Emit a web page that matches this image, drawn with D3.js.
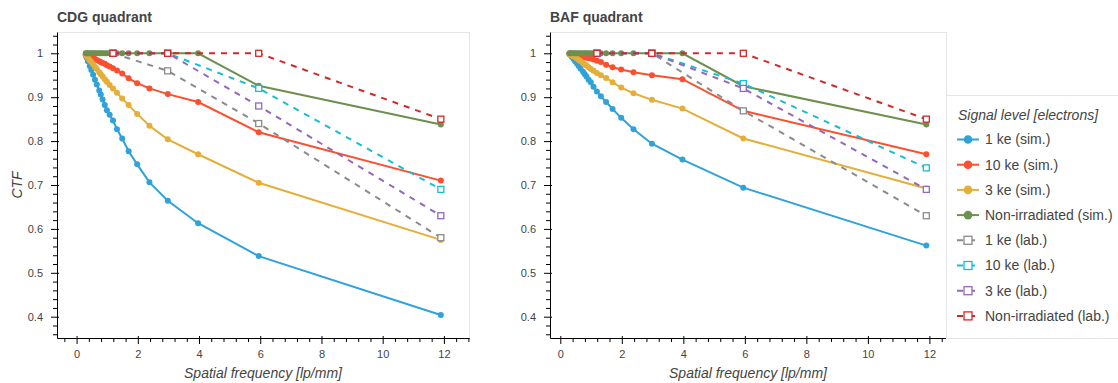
<!DOCTYPE html>
<html>
<head>
<meta charset="utf-8">
<script src="https://cdn.jsdelivr.net/npm/d3@7"></script>
<style>
body { margin: 0; background: #fff; }
text { font-family: "Liberation Sans", Arial, Helvetica, sans-serif; }
</style>
</head>
<body>
<svg id="place" width="1118" height="383"></svg>
<script>
// spatial frequencies of the simulated points [lp/mm]
var freq = [0.30, 0.33, 0.37, 0.43, 0.48, 0.54, 0.60, 0.66, 0.74, 0.79, 0.85, 0.92,
            0.99, 1.08, 1.19, 1.32, 1.49, 1.70, 1.98, 2.38, 2.98, 3.97, 5.95, 11.9];
// spatial frequencies of the lab measurements
var labFreq = [1.19, 2.975, 5.95, 11.9];

var names = ["1 ke (sim.)", "10 ke (sim.)", "3 ke (sim.)", "Non-irradiated (sim.)",
             "1 ke (lab.)", "10 ke (lab.)", "3 ke (lab.)", "Non-irradiated (lab.)"];
var colors = ["#30a2da", "#fc4f30", "#e5ae38", "#6d904f",
              "#8b8b8b", "#17becf", "#9467bd", "#d62728"];

// CDG quadrant
var cdgSim1 = [0.995, 0.990, 0.982, 0.971, 0.962, 0.951, 0.940, 0.929, 0.915, 0.906, 0.895, 0.882,
               0.870, 0.860, 0.847, 0.827, 0.806, 0.777, 0.747, 0.706, 0.664, 0.613, 0.538, 0.404];
var cdgSim10 = [0.998, 0.997, 0.995, 0.993, 0.991, 0.989, 0.987, 0.985, 0.982, 0.980, 0.978, 0.976,
                0.973, 0.970, 0.966, 0.961, 0.954, 0.943, 0.932, 0.920, 0.907, 0.889, 0.820, 0.710];
var cdgSim3 = [0.996, 0.993, 0.990, 0.984, 0.980, 0.975, 0.969, 0.964, 0.957, 0.952, 0.947, 0.941,
               0.935, 0.928, 0.920, 0.910, 0.897, 0.882, 0.862, 0.835, 0.804, 0.770, 0.705, 0.575];
var cdgSimNon = [1, 1, 1, 1, 1, 1, 1, 1, 1, 1, 1, 1,
                 1, 1, 1, 1, 1, 1, 1, 1, 1, 1, 0.926, 0.838];
var cdgLab1 = [1, 0.96, 0.84, 0.58];
var cdgLab10 = [1, 1, 0.92, 0.69];
var cdgLab3 = [1, 1, 0.88, 0.63];
var cdgLabNon = [1, 1, 1, 0.85];

// BAF quadrant
var bafSim1 = [0.998, 0.996, 0.992, 0.987, 0.982, 0.977, 0.971, 0.965, 0.958, 0.953, 0.947, 0.940,
               0.934, 0.924, 0.913, 0.902, 0.889, 0.873, 0.853, 0.827, 0.794, 0.758, 0.694, 0.562];
var bafSim10 = [0.999, 0.998, 0.998, 0.997, 0.996, 0.995, 0.994, 0.993, 0.992, 0.991, 0.990, 0.989,
                0.988, 0.986, 0.983, 0.980, 0.974, 0.968, 0.963, 0.957, 0.950, 0.941, 0.869, 0.770];
var bafSim3 = [0.998, 0.997, 0.995, 0.993, 0.991, 0.988, 0.985, 0.982, 0.978, 0.975, 0.972, 0.968,
               0.964, 0.960, 0.955, 0.950, 0.944, 0.934, 0.922, 0.909, 0.894, 0.874, 0.806, 0.692];
var bafSimNon = [1, 1, 1, 1, 1, 1, 1, 1, 1, 1, 1, 1,
                 1, 1, 1, 1, 1, 1, 1, 1, 1, 1, 0.925, 0.838];
var bafLab1 = [1, 1, 0.869, 0.63];
var bafLab10 = [1, 1, 0.931, 0.739];
var bafLab3 = [1, 1, 0.92, 0.69];
var bafLabNon = [1, 1, 1, 0.85];

var xTicks = [0, 2, 4, 6, 8, 10, 12];
var yTicks = [0.4, 0.5, 0.6, 0.7, 0.8, 0.9, 1];
var yTickLabels = ["0.4", "0.5", "0.6", "0.7", "0.8", "0.9", "1"];

var svg = d3.select("#place");
var top_ = 32, bottom = 338;

var panels = [
    {title: "CDG quadrant", sim: [cdgSim1, cdgSim10, cdgSim3, cdgSimNon],
     lab: [cdgLab1, cdgLab10, cdgLab3, cdgLabNon], left: 57, right: 469, xmin: -0.64, xmax: 12.82},
    {title: "BAF quadrant", sim: [bafSim1, bafSim10, bafSim3, bafSimNon],
     lab: [bafLab1, bafLab10, bafLab3, bafLabNon], left: 550, right: 946, xmin: -0.335, xmax: 12.54}
];

var styleAxis = function(a) {
    a.attr("font-family", null).attr("font-size", null);
    a.selectAll("text").style("font-size", "11px").attr("fill", "#444");
    a.selectAll("line").attr("stroke", "#000");
    a.select(".domain").attr("stroke", "#000");
};

var drawPanel = function(p, idx) {
    var x = d3.scaleLinear().domain([p.xmin, p.xmax]).range([p.left, p.right]);
    var y = d3.scaleLinear().domain([0.3515, 1.0485]).range([bottom, top_]);
    var g = svg.append("g");

    g.append("rect")
        .attr("x", p.left + 0.5).attr("y", top_ + 0.5)
        .attr("width", p.right - p.left).attr("height", bottom - top_)
        .attr("fill", "none").attr("stroke", "#e5e5e5");

    // minor ticks
    var xMinor = d3.range(-2, 33).map(function(k) { return k % 5 === 0 ? null : k * 0.4; })
        .filter(function(v) { return v !== null && v >= p.xmin && v <= p.xmax; });
    var yMinor = d3.range(17, 53).map(function(k) { return k % 5 === 0 ? null : k * 0.02; })
        .filter(function(v) { return v !== null && v >= 0.3515 && v <= 1.0485; });

    var xm = g.append("g").attr("transform", "translate(0," + bottom + ")")
        .call(d3.axisBottom(x).tickValues(xMinor).tickSize(4).tickFormat(""));
    xm.select(".domain").remove();
    xm.selectAll("line").attr("stroke", "#000");
    var ym = g.append("g").attr("transform", "translate(" + p.left + ",0)")
        .call(d3.axisLeft(y).tickValues(yMinor).tickSize(4).tickFormat(""));
    ym.select(".domain").remove();
    ym.selectAll("line").attr("stroke", "#000");

    var xa = g.append("g").attr("transform", "translate(0," + bottom + ")")
        .call(d3.axisBottom(x).tickValues(xTicks).tickSizeInner(6).tickSizeOuter(0)
              .tickPadding(6).tickFormat(d3.format("d")));
    xa.selectAll(".tick line").attr("y1", -2);
    styleAxis(xa);

    var ya = g.append("g").attr("transform", "translate(" + p.left + ",0)")
        .call(d3.axisLeft(y).tickValues(yTicks).tickSizeInner(6).tickSizeOuter(0)
              .tickPadding(8).tickFormat(function(d, i) { return yTickLabels[i]; }));
    ya.selectAll(".tick line").attr("x1", 2);
    styleAxis(ya);

    // simulated curves
    p.sim.forEach(function(vals, s) {
        var pts = vals.map(function(v, i) { return [freq[i], v]; });
        g.append("path")
            .attr("d", d3.line().x(function(d) { return x(d[0]); }).y(function(d) { return y(d[1]); })(pts))
            .attr("fill", "none").attr("stroke", colors[s]).attr("stroke-width", 2);
        g.selectAll(null).data(pts).enter().append("circle")
            .attr("cx", function(d) { return x(d[0]); })
            .attr("cy", function(d) { return y(d[1]); })
            .attr("r", 3)
            .attr("fill", colors[s]);
    });

    // lab measurements
    p.lab.forEach(function(vals, s) {
        var c = colors[s + 4];
        var pts = vals.map(function(v, i) { return [labFreq[i], v]; });
        g.append("path")
            .attr("d", d3.line().x(function(d) { return x(d[0]); }).y(function(d) { return y(d[1]); })(pts))
            .attr("fill", "none").attr("stroke", c).attr("stroke-width", 2)
            .attr("stroke-dasharray", "6,6");
        g.selectAll(null).data(pts).enter().append("rect")
            .attr("x", function(d) { return x(d[0]) - 3; })
            .attr("y", function(d) { return y(d[1]) - 3; })
            .attr("width", 6).attr("height", 6)
            .attr("fill", "#fff").attr("stroke", c).attr("stroke-width", 1.3);
    });

    svg.append("text")
        .attr("x", p.left).attr("y", 22)
        .attr("font-size", "14px").attr("font-weight", "bold").attr("fill", "#444")
        .text(p.title);
    svg.append("text")
        .attr("x", (p.left + p.right) / 2).attr("y", 378)
        .attr("text-anchor", "middle").attr("font-size", "14px")
        .attr("font-style", "italic").attr("fill", "#444")
        .text("Spatial frequency [lp/mm]");
    if (idx === 0) {
        svg.append("text")
            .attr("transform", "translate(22," + (top_ + bottom) / 2 + ")rotate(-90)")
            .attr("text-anchor", "middle").attr("font-size", "14px")
            .attr("font-style", "italic").attr("fill", "#444")
            .text("CTF");
    }
};

var legend = function() {
    var lg = svg.append("g");
    lg.append("rect")
        .attr("x", 946.5).attr("y", 95.5).attr("width", 180).attr("height", 243)
        .attr("fill", "#fff").attr("stroke", "#e5e5e5");
    lg.append("text")
        .attr("x", 958).attr("y", 120)
        .attr("font-size", "14px").attr("font-style", "italic").attr("fill", "#444")
        .text("Signal level [electrons]");
    names.forEach(function(n, i) {
        var cy = 139.5 + i * 25.2;
        var item = lg.append("g");
        var lab = i >= 4;
        item.append("line")
            .attr("x1", 957).attr("x2", 979).attr("y1", cy).attr("y2", cy)
            .attr("stroke", colors[i]).attr("stroke-width", 2)
            .attr("stroke-dasharray", lab ? "6,6" : null);
        if (lab) {
            item.append("rect")
                .attr("x", 964).attr("y", cy - 4).attr("width", 8).attr("height", 8)
                .attr("fill", "#fff").attr("stroke", colors[i]).attr("stroke-width", 1.3);
        } else {
            item.append("circle").attr("cx", 968).attr("cy", cy).attr("r", 4.3).attr("fill", colors[i]);
        }
        item.append("text")
            .attr("x", 985).attr("y", cy).attr("dy", "0.35em")
            .attr("font-size", "14px").attr("fill", "#444")
            .text(n);
    });
};

panels.forEach(drawPanel);
legend();
</script>
</body>
</html>
